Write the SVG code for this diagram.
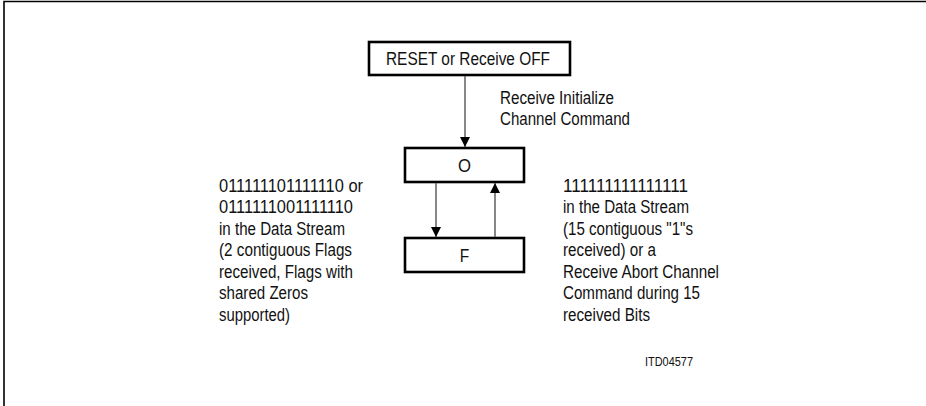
<svg xmlns="http://www.w3.org/2000/svg" width="926" height="406" viewBox="0 0 926 406">
<defs>
<style>
.box{fill:#fff;stroke:#000;stroke-width:2.6}
.t{font-family:"Liberation Sans",Arial,sans-serif;font-size:17.5px;fill:#111}
.s{font-family:"Liberation Sans",Arial,sans-serif;font-size:12.5px;fill:#111}
.c{text-anchor:middle}
.conn{stroke:#555;stroke-width:1.4;fill:none}
.frame{stroke:#000;stroke-width:1.6;fill:none}
</style>
<marker id="ah" markerWidth="10" markerHeight="12" refX="10" refY="5" orient="auto" markerUnits="userSpaceOnUse" viewBox="0 0 10 10">
<path d="M0,0 L10,5 L0,10 Z" fill="#000"/>
</marker>
</defs>
<rect width="926" height="406" fill="#fff"/>
<path class="frame" d="M4,406 V1.5 H926"/>
<g id="node-reset">
<rect class="box" x="369" y="42" width="201" height="33"/>
<text class="t" x="386" y="64.5" textLength="164" lengthAdjust="spacingAndGlyphs">RESET or Receive OFF</text>
</g>
<g id="node-o">
<rect class="box" x="405" y="148" width="119" height="34"/>
<text class="t c" x="464.5" y="171.5" textLength="13" lengthAdjust="spacingAndGlyphs">O</text>
</g>
<g id="node-f">
<rect class="box" x="405" y="238" width="119" height="34"/>
<text class="t c" x="464.5" y="261.5" textLength="9.5" lengthAdjust="spacingAndGlyphs">F</text>
</g>
<g id="connectors">
<line class="conn" x1="465" y1="76" x2="465" y2="147" marker-end="url(#ah)"/>
<line class="conn" x1="436" y1="183" x2="436" y2="237" marker-end="url(#ah)"/>
<line class="conn" x1="495" y1="237" x2="495" y2="183" marker-end="url(#ah)"/>
</g>
<g id="label-init" class="t">
<text x="500" y="103.5" textLength="114" lengthAdjust="spacingAndGlyphs">Receive Initialize</text>
<text x="500" y="124.5" textLength="130" lengthAdjust="spacingAndGlyphs">Channel Command</text>
</g>
<g id="label-left" class="t">
<text x="219" y="191.5" textLength="144" lengthAdjust="spacingAndGlyphs">011111101111110 or</text>
<text x="219" y="213" textLength="134" lengthAdjust="spacingAndGlyphs">0111111001111110</text>
<text x="219" y="234.5" textLength="126" lengthAdjust="spacingAndGlyphs">in the Data Stream</text>
<text x="219" y="256" textLength="133" lengthAdjust="spacingAndGlyphs">(2 contiguous Flags</text>
<text x="219" y="277.5" textLength="134" lengthAdjust="spacingAndGlyphs">received, Flags with</text>
<text x="219" y="299" textLength="89" lengthAdjust="spacingAndGlyphs">shared Zeros</text>
<text x="219" y="320.5" textLength="71" lengthAdjust="spacingAndGlyphs">supported)</text>
</g>
<g id="label-right" class="t">
<text x="563" y="191.5" textLength="125" lengthAdjust="spacingAndGlyphs">111111111111111</text>
<text x="563" y="213" textLength="126" lengthAdjust="spacingAndGlyphs">in the Data Stream</text>
<text x="563" y="234.5" textLength="130" lengthAdjust="spacingAndGlyphs">(15 contiguous "1"s</text>
<text x="563" y="256" textLength="93" lengthAdjust="spacingAndGlyphs">received) or a</text>
<text x="563" y="277.5" textLength="156" lengthAdjust="spacingAndGlyphs">Receive Abort Channel</text>
<text x="563" y="299" textLength="137" lengthAdjust="spacingAndGlyphs">Command during 15</text>
<text x="563" y="320.5" textLength="87" lengthAdjust="spacingAndGlyphs">received Bits</text>
</g>
<g id="label-id">
<text class="s" x="645" y="366" textLength="48" lengthAdjust="spacingAndGlyphs">ITD04577</text>
</g>
</svg>
